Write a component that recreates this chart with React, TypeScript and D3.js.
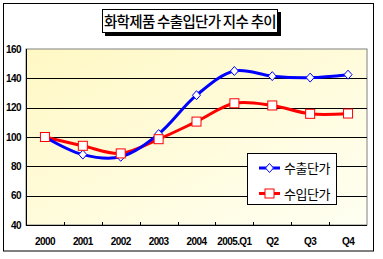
import React from "react";
import * as d3 from "d3";

const categories = ["2000", "2001", "2002", "2003", "2004", "2005.Q1", "Q2", "Q3", "Q4"];
const exportIdx = [100, 88, 86.5, 102, 128.5, 145, 141.5, 140.5, 142.5];
const importIdx = [100, 94, 88.8, 98.5, 110.5, 123, 121.5, 115.8, 116];
const yTicks = [40, 60, 80, 100, 120, 140, 160];
const seriesNames = ["수출단가", "수입단가"];
const title = "화학제품 수출입단가 지수 추이";

export default function App() {
  const W = 383, H = 259;
  const pl = 26, pr = 367, pt = 49, pb = 225;
  const x = d3.scaleBand().domain(categories).range([pl, pr]);
  const y = d3.scaleLinear().domain([40, 160]).range([pb, pt]);
  const cx = (i: number) => (x(categories[i]) as number) + x.bandwidth() / 2;
  const line = d3.line<number>().x((_, i) => cx(i)).y((d) => y(d)).curve(d3.curveCatmullRom.alpha(0.5));
  const blue = "#0000FF", red = "#FF0000";
  const tickFont = { fontFamily: "Liberation Sans, Arial, sans-serif", fontWeight: 700, fontSize: 10, letterSpacing: -0.6 } as const;
  const kfont = "'Noto Sans CJK KR', sans-serif";
  const diamond = (px: number, py: number) => `M${px},${py - 4.5}L${px + 4},${py}L${px},${py + 4.5}L${px - 4},${py}Z`;
  return (
    <svg width={W} height={H} style={{ position: "absolute", left: 0, top: 0 }}>
      <defs>
        <linearGradient id="bg" x1="0" y1="0" x2="1" y2="1">
          <stop offset="0" stopColor="#FFF8C4" />
          <stop offset="1" stopColor="#FFFFF2" />
        </linearGradient>
      </defs>
      <rect x={0} y={0} width={W} height={H} fill="#fff" />
      <rect x={3.5} y={3.5} width={370} height={247.5} fill="#fff" stroke="#000" strokeWidth={1} />
      {/* title */}
      <rect x={105} y={12} width={176} height={24} fill="#000" />
      <rect x={102.5} y={9.5} width={175} height={23} fill="#fff" stroke="#000" strokeWidth={1} />
      <text x={190} y={27} textAnchor="middle" fontFamily={kfont} fontSize={14.5} fontWeight={500} letterSpacing={-0.7} fill="#000">{title}</text>
      {/* plot */}
      <rect x={pl} y={pt} width={pr - pl} height={pb - pt} fill="url(#bg)" stroke="#808080" strokeWidth={1} />
      {yTicks.map((t) => (
        <g key={t}>
          {t > 40 && t < 160 && <line x1={pl} x2={pr} y1={Math.round(y(t)) + 0.5} y2={Math.round(y(t)) + 0.5} stroke="#000" strokeWidth={1} />}
          <text x={21} y={y(t) + 3.5} textAnchor="end" {...tickFont}>{t}</text>
        </g>
      ))}
      <line x1={pl + 0.5} x2={pl + 0.5} y1={pt} y2={pb} stroke="#000" />
      <line x1={pl} x2={pr} y1={pb + 0.5} y2={pb + 0.5} stroke="#000" />
      {categories.map((c, i) => (
        <g key={c}>
          {i > 0 && <line x1={Math.round(x(c) as number) + 0.5} x2={Math.round(x(c) as number) + 0.5} y1={pb - 3} y2={pb} stroke="#000" />}
          <text x={cx(i)} y={245} textAnchor="middle" {...tickFont}>{c}</text>
        </g>
      ))}
      <path d={line(importIdx) as string} fill="none" stroke={red} strokeWidth={3} />
      <path d={line(exportIdx) as string} fill="none" stroke={blue} strokeWidth={3} />
      {exportIdx.map((v, i) => (
        <path key={"e" + i} d={diamond(cx(i), y(v))} fill="#fff" stroke={blue} strokeWidth={1} />
      ))}
      {importIdx.map((v, i) => (
        <rect key={"i" + i} x={cx(i) - 4.5} y={y(v) - 4.5} width={9} height={9} fill="#fff" stroke={red} strokeWidth={1} />
      ))}
      {/* legend */}
      <rect x={247.5} y={153.5} width={89} height={51} fill="#fff" stroke="#000" strokeWidth={1} />
      {seriesNames.map((s, i) => {
        const ly = 168 + i * 25.5;
        const col = i === 0 ? blue : red;
        return (
          <g key={s}>
            <line x1={259} x2={280} y1={ly} y2={ly} stroke={col} strokeWidth={3} />
            {i === 0 ? (
              <path d={diamond(269.5, ly)} fill="#fff" stroke={col} />
            ) : (
              <rect x={265} y={ly - 4.5} width={9} height={9} fill="#fff" stroke={col} />
            )}
            <text x={284} y={ly + 5} fontFamily={kfont} fontSize={13} letterSpacing={-0.5} fill="#000">{s}</text>
          </g>
        );
      })}
    </svg>
  );
}
